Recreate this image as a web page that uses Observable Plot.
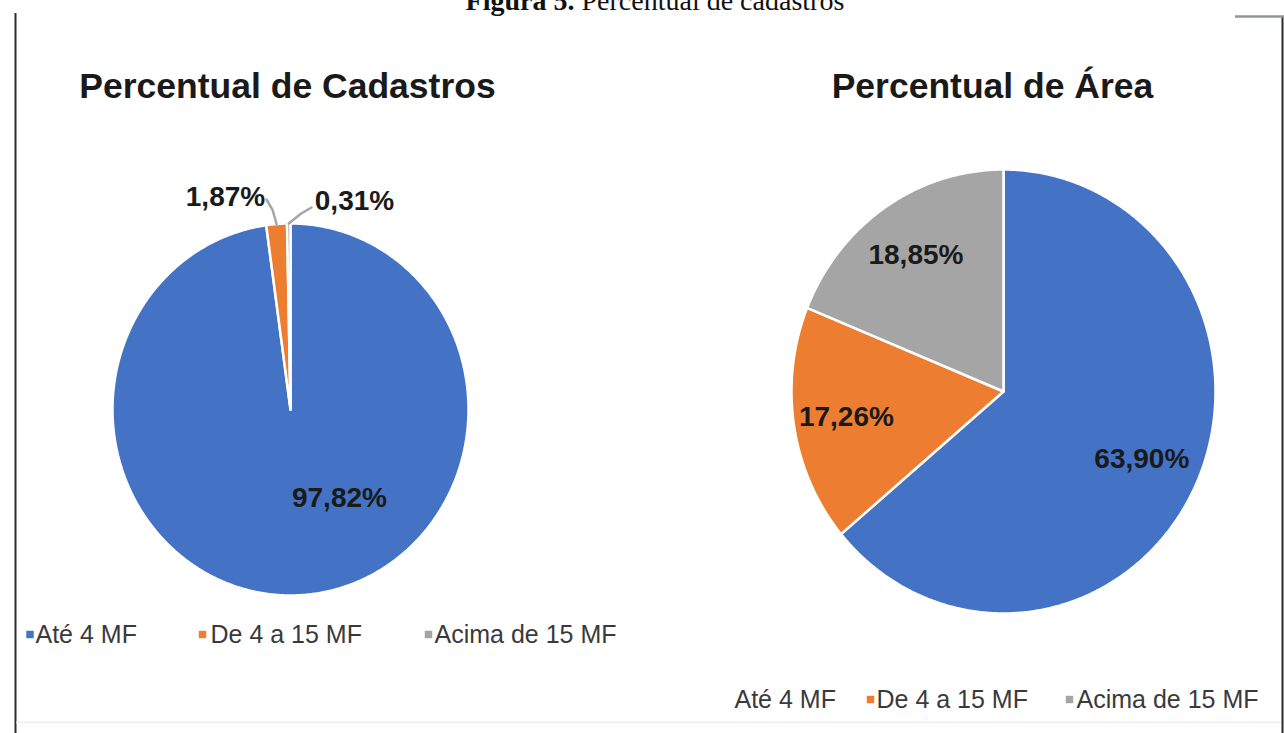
<!DOCTYPE html>
<html>
<head>
<meta charset="utf-8">
<script src="https://cdn.jsdelivr.net/npm/d3@7"></script>
<script src="https://cdn.jsdelivr.net/npm/@observablehq/plot@0.6"></script>
<style>
  html, body { margin: 0; padding: 0; background: #fff; }
  #chart { width: 1284px; height: 733px; overflow: hidden; }
</style>
</head>
<body>
<div id="chart"></div>
<script>
// ---- data ----
const categories = ["Até 4 MF", "De 4 a 15 MF", "Acima de 15 MF"];
const cadastrosPct = [97.82, 1.87, 0.31];
const areaPct = [63.90, 17.26, 18.85];
const chartTitles = ["Percentual de Cadastros", "Percentual de Área"];
const captionBold = "Figura 5.";
const captionText = " Percentual de cadastros";
const sliceColors = ["#4472C4", "#ED7D31", "#A5A5A5"];

// ---- layout ----
const W = 1284, H = 733;
const SANS = "'Liberation Sans', Arial, sans-serif";
const SERIF = "'Liberation Serif', 'Times New Roman', serif";

const pies = [
  {
    values: cadastrosPct, title: chartTitles[0], titleX: 287,
    cx: 290, cy: 409, rx: 178, ry: 186,
    // inside: polar placement (deg clockwise from 12 o'clock, fraction of radius)
    // outside: label centre plus leader end point
    labels: [
      {angle: 150, frac: 0.55},
      {outside: true, lx: 225, ly: 197, ex: 266, ey: 199},
      {outside: true, lx: 354, ly: 201, ex: 311, ey: 207}
    ],
    legend: {y: 642, items: [{m: 29.5, t: 35}, {m: 202, t: 210}, {m: 428, t: 434}], showFirstMarker: true}
  },
  {
    values: areaPct, title: chartTitles[1], titleX: 992,
    cx: 1003, cy: 391, rx: 212, ry: 222,
    labels: [{frac: 0.72}, {frac: 0.75}, {frac: 0.74}],
    legend: {y: 707, items: [{m: 727, t: 734}, {m: 870, t: 876}, {m: 1069, t: 1076}], showFirstMarker: false}
  }
];

const fmt = v => d3.format(".2f")(v).replace(".", ",") + "%";
const rad = d => d * Math.PI / 180;

const slicePts = [], labelPts = [], leaderPts = [], titlePts = [], legendText = [], legendMarks = [];

pies.forEach((p, pi) => {
  const arcs = d3.pie().sort(null).value(d => d)(p.values);
  arcs.forEach((a, i) => {
    const key = `${pi}-${i}`;
    const n = Math.max(2, Math.ceil((a.endAngle - a.startAngle) / (Math.PI / 360)));
    slicePts.push({x: p.cx, y: p.cy, key, color: sliceColors[i]});
    for (let k = 0; k <= n; k++) {
      const t = a.startAngle + (a.endAngle - a.startAngle) * k / n;
      slicePts.push({x: p.cx + p.rx * Math.sin(t), y: p.cy - p.ry * Math.cos(t), key, color: sliceColors[i]});
    }
    slicePts.push({x: p.cx, y: p.cy, key, color: sliceColors[i]});

    const mid = (a.startAngle + a.endAngle) / 2;
    const L = p.labels[i];
    if (L.outside) {
      labelPts.push({x: L.lx, y: L.ly, text: fmt(a.value)});
      const ox = p.cx + p.rx * Math.sin(mid), oy = p.cy - p.ry * Math.cos(mid);
      leaderPts.push({x: ox, y: oy, key});
      leaderPts.push({x: (ox + L.ex) / 2 + 1, y: (oy + L.ey) / 2 - 2, key});
      leaderPts.push({x: L.ex, y: L.ey, key});
    } else {
      const ang = L.angle != null ? rad(L.angle) : mid;
      labelPts.push({
        x: p.cx + L.frac * p.rx * Math.sin(ang),
        y: p.cy - L.frac * p.ry * Math.cos(ang),
        text: fmt(a.value)
      });
    }
    const it = p.legend.items[i];
    legendText.push({x: it.t, y: p.legend.y, text: categories[i]});
    if (i > 0 || p.legend.showFirstMarker) legendMarks.push({x: it.m, y: p.legend.y - 8, color: sliceColors[i]});
  });
  titlePts.push({x: p.titleX, y: 97, text: p.title});
});

const chart = Plot.plot({
  width: W, height: H,
  margin: 0,
  x: {domain: [0, W], range: [0, W], axis: null},
  y: {domain: [0, H], range: [0, H], axis: null},
  color: {type: "identity"},
  style: {background: "#fff", overflow: "visible"},
  marks: [
    // frame
    Plot.ruleX([15], {y1: 13, y2: H, stroke: "#2b2b2b", strokeWidth: 2}),
    Plot.ruleX([1282], {y1: 17, y2: H, stroke: "#2b2b2b", strokeWidth: 2}),
    Plot.ruleY([16], {x1: 1235, x2: W, stroke: "#8c9797", strokeWidth: 2.5}),
    Plot.ruleY([722], {x1: 16, x2: 1281, stroke: "#ececec", strokeWidth: 1.5}),

    // figure caption, running off the top edge
    Plot.text([captionBold], {x: () => 574, y: () => 9, text: d => d, textAnchor: "end", lineAnchor: "bottom",
      fontFamily: SERIF, fontSize: 28, fontWeight: "bold", fill: "#111"}),
    Plot.text([captionText], {x: () => 574, y: () => 9, text: d => d, textAnchor: "start", lineAnchor: "bottom",
      fontFamily: SERIF, fontSize: 28, fill: "#111"}),

    // pies
    Plot.line(slicePts, {x: "x", y: "y", z: "key", fill: "color", stroke: "#fff", strokeWidth: 2.5,
      strokeLinejoin: "round", curve: "linear"}),

    // leader lines for the thin slices
    Plot.line(leaderPts, {x: "x", y: "y", z: "key", stroke: "#a6a6a6", strokeWidth: 2.5, curve: "linear"}),

    // titles
    Plot.text(titlePts, {x: "x", y: "y", text: "text", textAnchor: "middle", lineAnchor: "bottom",
      fontFamily: SANS, fontSize: 35.5, fontWeight: "bold", fill: "#1a1a1a"}),

    // data labels
    Plot.text(labelPts, {x: "x", y: "y", text: "text", textAnchor: "middle", lineAnchor: "middle",
      fontFamily: SANS, fontSize: 28, fontWeight: "bold", fill: "#1a1a1a"}),

    // legends
    Plot.dot(legendMarks, {x: "x", y: "y", fill: "color", symbol: "square", r: 4.2, stroke: null}),
    Plot.text(legendText, {x: "x", y: "y", text: "text", textAnchor: "start", lineAnchor: "bottom",
      fontFamily: SANS, fontSize: 25, fill: "#3a3a3a"})
  ]
});

document.getElementById("chart").appendChild(chart);
</script>
</body>
</html>
